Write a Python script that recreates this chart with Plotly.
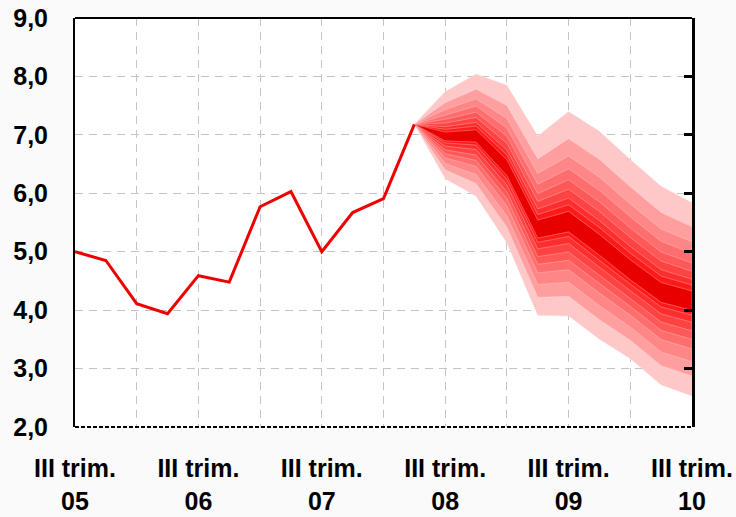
import plotly.graph_objects as go

# ---- data ----
quarter_labels = ["III trim.<br>05", "III trim.<br>06", "III trim.<br>07",
                  "III trim.<br>08", "III trim.<br>09", "III trim.<br>10"]
hist_x = list(range(0, 12))
hist_y = [5.0, 4.85, 4.11, 3.94, 4.59, 4.48, 5.77, 6.03, 5.0, 5.67, 5.91, 7.18]

fan_x = list(range(11, 21))
fan_center = [7.18, 6.97, 6.98, 6.43, 5.38, 5.50, 5.10, 4.67, 4.29, 4.16]
fan_upper = [7.18, 7.74, 8.04, 7.85, 6.98, 7.40, 7.06, 6.58, 6.12, 5.84]
fan_lower = [7.18, 6.25, 5.95, 5.15, 3.91, 3.90, 3.50, 3.17, 2.72, 2.53]
# relative position of each band edge between centre and outer edge (inner -> outer)
band_up_frac = [0.10, 0.16, 0.22, 0.30, 0.385, 0.485, 0.60, 0.755, 1.0]
band_lo_frac = [0.10, 0.15, 0.225, 0.315, 0.405, 0.505, 0.64, 0.79, 1.0]
band_colors = ["#e80000", "#ff1a1a", "#ff2e2e", "#ff4242", "#ff5858",
               "#ff6e6e", "#ff8686", "#ff9e9e", "#ffc8c8"]

fig = go.Figure()

# fan bands, outer first
for k in range(len(band_up_frac) - 1, -1, -1):
    up = [c + band_up_frac[k] * (u - c) for c, u in zip(fan_center, fan_upper)]
    lo = [c - band_lo_frac[k] * (c - l) for c, l in zip(fan_center, fan_lower)]
    fig.add_trace(go.Scatter(
        x=fan_x + fan_x[::-1], y=up + lo[::-1],
        fill="toself", fillcolor=band_colors[k], mode="lines",
        line=dict(color="rgba(255,225,225,0.55)", width=0.6),
        hoverinfo="skip", showlegend=False))

# historical line
fig.add_trace(go.Scatter(x=hist_x, y=hist_y, mode="lines",
                         line=dict(color="#ee0000", width=3),
                         showlegend=False))

# invisible trace for the right-hand axis
fig.add_trace(go.Scatter(x=[0], y=[2], yaxis="y2", mode="markers",
                         marker=dict(opacity=0), showlegend=False,
                         hoverinfo="skip"))

tickvals = list(range(0, 21, 2))
ticktext = []
for v in tickvals:
    ticktext.append(quarter_labels[v // 4] if v % 4 == 0 else "")

font_bold = dict(family="Liberation Sans, Arial, sans-serif", size=25,
                 color="black", weight="bold")

fig.update_layout(
    width=736, height=517,
    margin=dict(l=75, r=44, t=18, b=90),
    paper_bgcolor="#fafafa", plot_bgcolor="white",
    separators=",.",
    xaxis=dict(range=[0, 20], tickvals=tickvals, ticktext=ticktext,
               showgrid=True, gridcolor="#c4c4c4", griddash="8px,6px",
               gridwidth=1, zeroline=False, showline=False, ticks="",
               tickfont=font_bold, ticklabelstandoff=24, automargin=False,
               ticklabeloverflow="allow"),
    yaxis=dict(range=[2, 9], dtick=1, tick0=2, tickformat=".1f",
               showgrid=True, gridcolor="#c4c4c4", griddash="8px,6px",
               gridwidth=1, zeroline=False, showline=True,
               linecolor="black", linewidth=2, ticks="",
               tickfont=font_bold, ticklabelstandoff=20, automargin=False,
               ticklabeloverflow="allow"),
    yaxis2=dict(range=[2, 9], dtick=1, tick0=2, overlaying="y", side="right",
                showgrid=False, zeroline=False, showline=True,
                linecolor="black", linewidth=3, ticks="inside", ticklen=8,
                tickwidth=3, tickcolor="black", showticklabels=False,
                automargin=False),
    shapes=[
        dict(type="line", xref="paper", yref="paper", x0=0, x1=1, y0=1, y1=1,
             line=dict(color="black", width=2)),
        dict(type="line", xref="paper", yref="paper", x0=0, x1=1, y0=0, y1=0,
             line=dict(color="black", width=2, dash="4px,2px")),
    ],
)

fig.write_html(
    "out.html",
    config={"displayModeBar": False},
    post_script="document.body.style.margin='0';"
                "document.body.style.overflow='hidden';",
)
